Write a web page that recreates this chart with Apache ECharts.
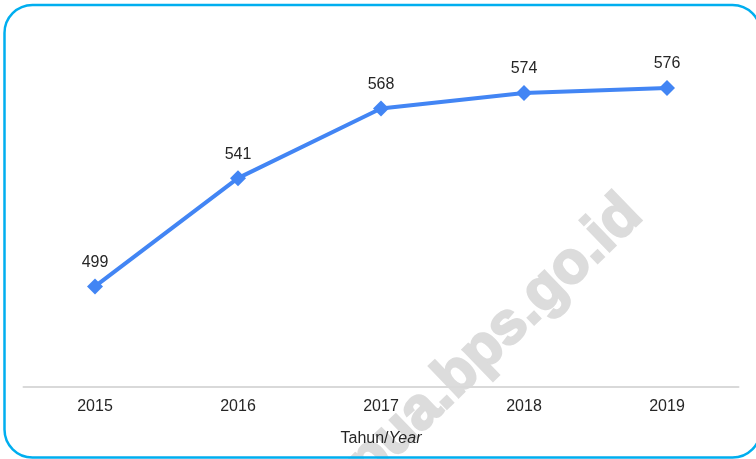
<!DOCTYPE html>
<html>
<head>
<meta charset="utf-8">
<script src="https://cdn.jsdelivr.net/npm/echarts@6/dist/echarts.min.js"></script>
<style>
  html, body { margin: 0; padding: 0; background: #fff; }
  #main { width: 756px; height: 459px; }
</style>
</head>
<body>
<div id="main"></div>
<script>
// data
var years = ['2015', '2016', '2017', '2018', '2019'];
var values = [499, 541, 568, 574, 576];

var chart = echarts.init(document.getElementById('main'));

var font = 'Arial, "Liberation Sans", sans-serif';

var option = {
  backgroundColor: '#fff',
  animation: false,
  grid: { left: 23.5, right: 17.5, top: 26, bottom: 72 },
  graphic: [
    {
      // watermark behind everything
      type: 'text',
      z: -10,
      x: 633, y: 206,
      rotation: 44 * Math.PI / 180,
      style: {
        text: 'papua.bps.go.id',
        font: 'bold 59px "Liberation Sans", Arial, sans-serif',
        fill: '#dcdcdc',
        stroke: '#dcdcdc',
        lineWidth: 2.5,
        align: 'right',
        verticalAlign: 'middle'
      }
    },
    {
      type: 'rect',
      z: 100,
      shape: { x: 4.5, y: 5, width: 756, height: 452.5, r: 28 },
      style: { fill: 'none', stroke: '#00AEEF', lineWidth: 2.5 }
    }
  ],
  xAxis: {
    type: 'category',
    data: years,
    boundaryGap: true,
    axisLine: { lineStyle: { color: '#d9d9d9', width: 2 } },
    axisTick: { show: false },
    axisLabel: { color: '#262626', fontSize: 16, fontFamily: font, margin: 12 },
    name: '{a|Tahun/}{b|Year}',
    nameLocation: 'middle',
    nameGap: 44,
    nameTextStyle: {
      rich: {
        a: { color: '#262626', fontSize: 16, fontFamily: font },
        b: { color: '#262626', fontSize: 16, fontStyle: 'italic', fontFamily: font }
      }
    }
  },
  yAxis: {
    type: 'value',
    min: 460,
    max: 600,
    interval: 20,
    show: false,
    splitLine: { show: false }
  },
  series: [{
    type: 'line',
    data: values,
    symbol: 'diamond',
    symbolSize: 16,
    lineStyle: { color: '#4285F4', width: 4 },
    itemStyle: { color: '#4285F4' },
    label: {
      show: true,
      position: 'top',
      distance: 8,
      color: '#262626',
      fontSize: 16,
      fontFamily: font
    }
  }]
};

chart.setOption(option);
</script>
</body>
</html>
